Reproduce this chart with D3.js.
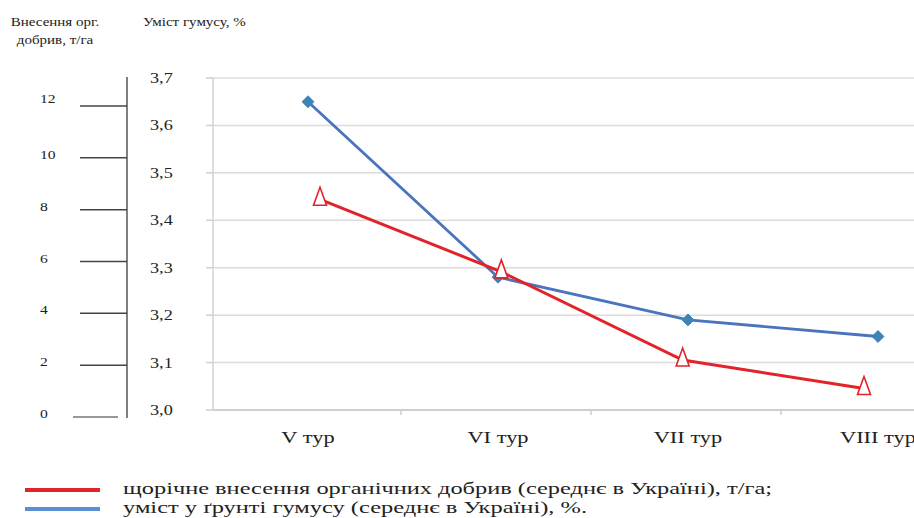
<!DOCTYPE html>
<html><head><meta charset="utf-8">
<script src="https://cdn.jsdelivr.net/npm/d3@7/dist/d3.min.js"></script>
<style>body{margin:0;background:#fff}svg{display:block}text{font-family:"Liberation Serif","Times New Roman",serif;fill:#222}</style>
</head><body>
<script>
const categories = ["V тур", "VI тур", "VII тур", "VIII тур"];
const humus = [3.65, 3.28, 3.19, 3.155];          // уміст гумусу, %
const organic = [8.4, 5.6, 2.2, 1.1];              // внесення орг. добрив, т/га
const humusTicks = [3.0, 3.1, 3.2, 3.3, 3.4, 3.5, 3.6, 3.7];
const organicTicks = [0, 2, 4, 6, 8, 10, 12];
const legendLabels = [
  "щорічне внесення органічних добрив (середнє в Україні), т/га;",
  "уміст у ґрунті гумусу (середнє в Україні), %."
];
const headerLeft = ["Внесення орг.", "добрив, т/га"];
const headerRight = "Уміст гумусу, %";

const W = 914, H = 518;
const RED = "#e3232a", BLUE = "#4a74bd", BLUE_M = "#3d84b6";
const svg = d3.select("body").append("svg").attr("width", W).attr("height", H);

const x = d3.scaleBand().domain(categories).range([213, 973]);
const xRed = d3.scalePoint().domain(categories).range([320, 864]);
const yH = d3.scaleLinear().domain([3.0, 3.7]).range([410, 78]);
const yO = d3.scaleLinear().domain([0, 12]).range([417, 106]);

function stretch(sel, k) {
  sel.each(function () {
    const l = this.getComputedTextLength();
    d3.select(this).attr("textLength", l * k).attr("lengthAdjust", "spacingAndGlyphs");
  });
}

// gridlines
svg.append("g").selectAll("line").data(humusTicks).join("line")
  .attr("x1", 213).attr("x2", W).attr("y1", d => yH(d)).attr("y2", d => yH(d))
  .attr("stroke", d => d === 3.0 ? "#cfcfcf" : "#dcdcdc").attr("stroke-width", d => d === 3.0 ? 2 : 1.5);
// right-axis ticks
svg.append("g").selectAll("line").data(humusTicks).join("line")
  .attr("x1", 206).attr("x2", 213).attr("y1", d => yH(d)).attr("y2", d => yH(d))
  .attr("stroke", "#cfcfcf").attr("stroke-width", 1.5);
// plot left border
svg.append("line").attr("x1", 213).attr("x2", 213).attr("y1", yH(3.7)).attr("y2", yH(3.0))
  .attr("stroke", "#d3d3d3").attr("stroke-width", 1.5);
// x-axis ticks at band boundaries
svg.append("g").selectAll("line").data(categories.slice(1)).join("line")
  .attr("x1", d => x(d) - 2).attr("x2", d => x(d) - 2).attr("y1", yH(3.0)).attr("y2", yH(3.0) + 5)
  .attr("stroke", "#cfcfcf").attr("stroke-width", 1.5);

// right axis labels
const rl = svg.append("g").selectAll("text").data(humusTicks).join("text")
  .attr("x", 150).attr("y", d => yH(d) + 5).attr("font-size", 14)
  .text(d => d3.format(".1f")(d).replace(".", ","));
stretch(rl, 1.3);

// left axis
svg.append("line").attr("x1", 127).attr("x2", 127).attr("y1", 77).attr("y2", 418)
  .attr("stroke", "#555").attr("stroke-width", 1.5);
svg.append("g").selectAll("line").data(organicTicks).join("line")
  .attr("x1", d => d === 0 ? 73 : 80).attr("x2", d => d === 0 ? 118 : 127)
  .attr("y1", d => yO(d)).attr("y2", d => yO(d))
  .attr("stroke", d => d === 0 ? "#777" : "#444").attr("stroke-width", 1.5);
const ll = svg.append("g").selectAll("text").data(organicTicks).join("text")
  .attr("x", 40).attr("y", d => yO(d) + (d === 12 ? -3 : 1)).attr("font-size", 13)
  .text(d => d);
stretch(ll, 1.2);

// headers
const h1 = svg.append("g").selectAll("text").data(headerLeft).join("text")
  .attr("x", 55).attr("y", (d, i) => 26 + i * 18).attr("text-anchor", "middle").attr("font-size", 12)
  .text(d => d);
stretch(h1, 1.25);
const h2 = svg.append("text").attr("x", 143).attr("y", 26).attr("font-size", 12).text(headerRight);
stretch(h2, 1.25);

// x labels
const xl = svg.append("g").selectAll("text").data(categories).join("text")
  .attr("x", d => x(d) + x.bandwidth() / 2).attr("y", 443).attr("text-anchor", "middle")
  .attr("font-size", 16).text(d => d);
stretch(xl, 1.4);

// blue series (humus)
svg.append("path").datum(humus)
  .attr("d", d3.line().x((d, i) => x(categories[i]) + x.bandwidth() / 2).y(d => yH(d)))
  .attr("fill", "none").attr("stroke", BLUE).attr("stroke-width", 2.8);
svg.append("g").selectAll("path").data(humus).join("path")
  .attr("transform", (d, i) => `translate(${x(categories[i]) + x.bandwidth() / 2},${yH(d)})`)
  .attr("d", d3.symbol(d3.symbolDiamond2, 90)).attr("fill", BLUE_M).attr("stroke", BLUE_M).attr("stroke-width", 1);

// red series (organic fertilizer)
svg.append("path").datum(organic)
  .attr("d", d3.line().x((d, i) => xRed(categories[i])).y(d => yO(d)))
  .attr("fill", "none").attr("stroke", RED).attr("stroke-width", 3);
svg.append("g").selectAll("path").data(organic).join("path")
  .attr("transform", (d, i) => `translate(${xRed(categories[i])},${yO(d) - 2})`)
  .attr("d", "M0,-10L6.5,8L-6.5,8Z")
  .attr("fill", "#fff").attr("stroke", RED).attr("stroke-width", 1.6);

// legend
const lg = svg.append("g");
[RED, "#5b8fd3"].forEach((c, i) => {
  lg.append("line").attr("x1", 25).attr("x2", 100).attr("y1", 490 + i * 19).attr("y2", 490 + i * 19)
    .attr("stroke", c).attr("stroke-width", 4);
});
const lt = lg.selectAll("text").data(legendLabels).join("text")
  .attr("x", 123).attr("y", (d, i) => 494 + i * 19).attr("font-size", 16).text(d => d);
lt.attr("textLength", (d, i) => i === 0 ? 649 : 464).attr("lengthAdjust", "spacingAndGlyphs");
</script>
</body></html>
